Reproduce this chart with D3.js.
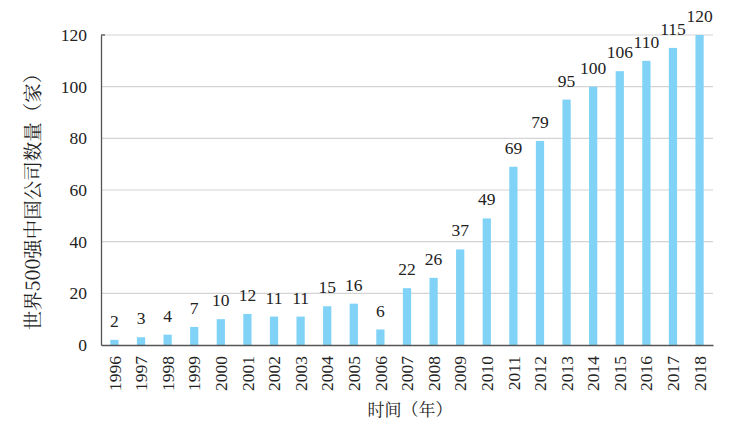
<!DOCTYPE html>
<html>
<head>
<meta charset="utf-8">
<script src="https://cdn.jsdelivr.net/npm/d3@7.9.0/dist/d3.min.js"></script>
<style>
  body { margin: 0; background: #fff; }
</style>
</head>
<body>
<svg id="chart" width="734" height="425"></svg>
<script>
const years = ['1996', '1997', '1998', '1999', '2000', '2001', '2002', '2003', '2004', '2005', '2006',
  '2007', '2008', '2009', '2010', '2011', '2012', '2013', '2014', '2015', '2016', '2017', '2018'];
const counts = [2, 3, 4, 7, 10, 12, 11, 11, 15, 16, 6, 22, 26, 37, 49, 69, 79, 95, 100, 106, 110, 115, 120];
const yTicks = [0, 20, 40, 60, 80, 100, 120];

const numFont = '"Liberation Serif", "Times New Roman", serif';
const cjkFont = '"Noto Serif CJK SC", "Noto Sans CJK SC", serif';

const svg = d3.select('#chart');
const margin = { top: 35, right: 21, bottom: 80, left: 101 };
const width = 734 - margin.left - margin.right;
const height = 425 - margin.top - margin.bottom;

const g = svg.append('g').attr('transform', `translate(${margin.left},${margin.top})`);

let x = d3.scaleBand()
  .domain(years)
  .range([0, width])
  .paddingInner(0.69)
  .paddingOuter(0.35);

let y = d3.scaleLinear()
  .domain([0, 120])
  .range([height, 0]);

// gridlines
g.selectAll('line.grid')
  .data(yTicks.filter(d => d > 0))
  .join('line')
  .attr('class', 'grid')
  .attr('x1', 0)
  .attr('x2', width)
  .attr('y1', d => y(d))
  .attr('y2', d => y(d))
  .attr('stroke', '#d4d4d4')
  .attr('stroke-width', 1.2);

// bars
g.selectAll('rect')
  .data(counts)
  .join('rect')
  .attr('x', (d, i) => x(years[i]))
  .attr('y', d => y(d))
  .attr('width', x.bandwidth())
  .attr('height', d => height - y(d))
  .attr('fill', '#80d3f6');

// value labels
g.selectAll('text.val')
  .data(counts)
  .join('text')
  .attr('class', 'val')
  .attr('x', (d, i) => x(years[i]) + x.bandwidth() / 2)
  .attr('y', d => y(d) - 13)
  .attr('text-anchor', 'middle')
  .attr('font-size', 17.5)
  .attr('fill', '#222')
  .style('font-family', numFont)
  .text(d => d);

// y axis
const yAxis = g.append('g')
  .call(d3.axisLeft(y).tickValues(yTicks).tickSize(0).tickPadding(14));
yAxis.select('.domain').attr('stroke', '#555').attr('stroke-width', 1.3);
yAxis.selectAll('text')
  .attr('font-size', 17.5)
  .attr('fill', '#222')
  .style('font-family', numFont);

// small tick at the top of the y axis
g.append('line')
  .attr('x1', 0).attr('x2', 4)
  .attr('y1', y(120)).attr('y2', y(120))
  .attr('stroke', '#555').attr('stroke-width', 1.3);

// x axis
const xAxis = g.append('g')
  .attr('transform', `translate(0,${height})`)
  .call(d3.axisBottom(x).tickSize(0).tickPadding(0));
xAxis.select('.domain').attr('stroke', '#555').attr('stroke-width', 1.3);
xAxis.selectAll('text')
  .attr('font-size', 17.5)
  .attr('fill', '#222')
  .style('font-family', numFont)
  .attr('transform', 'rotate(-90)')
  .attr('text-anchor', 'end')
  .attr('x', -11)
  .attr('y', 0)
  .attr('dy', '0.35em');

// axis titles
svg.append('text')
  .attr('transform', `translate(40,197) rotate(-90)`)
  .attr('text-anchor', 'middle')
  .attr('font-size', 19.5)
  .attr('fill', '#222')
  .style('font-family', cjkFont)
  .text('世界500强中国公司数量（家）');

svg.append('text')
  .attr('x', 410)
  .attr('y', 416)
  .attr('text-anchor', 'middle')
  .attr('font-size', 17)
  .attr('fill', '#222')
  .style('font-family', cjkFont)
  .text('时间（年）');
</script>
</body>
</html>
